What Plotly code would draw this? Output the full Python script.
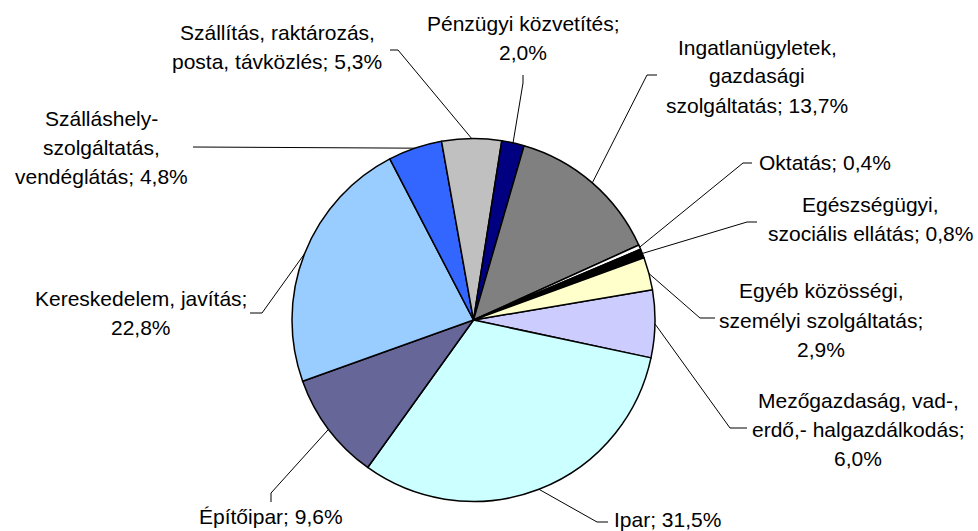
import math
import plotly.graph_objects as go

W, H = 978, 531

# ---- data -------------------------------------------------------------
categories = [
    "Mezőgazdaság, vad-, erdő,- halgazdálkodás",
    "Ipar",
    "Építőipar",
    "Kereskedelem, javítás",
    "Szálláshely-szolgáltatás, vendéglátás",
    "Szállítás, raktározás, posta, távközlés",
    "Pénzügyi közvetítés",
    "Ingatlanügyletek, gazdasági szolgáltatás",
    "Oktatás",
    "Egészségügyi, szociális ellátás",
    "Egyéb közösségi, személyi szolgáltatás",
]
values = [6.0, 31.5, 9.6, 22.8, 4.8, 5.3, 2.0, 13.7, 0.4, 0.8, 2.9]
label_templates = [
    "Mezőgazdaság, vad-,<br>erdő,- halgazdálkodás;<br>{p}",
    "Ipar; {p}",
    "Építőipar; {p}",
    "Kereskedelem, javítás;<br>{p}",
    "Szálláshely-<br>szolgáltatás,<br>vendéglátás; {p}",
    "Szállítás, raktározás,<br>posta, távközlés; {p}",
    "Pénzügyi közvetítés;<br>{p}",
    "Ingatlanügyletek,<br>gazdasági<br>szolgáltatás; {p}",
    "Oktatás; {p}",
    "Egészségügyi,<br>szociális ellátás; {p}",
    "Egyéb közösségi,<br>személyi szolgáltatás;<br>{p}",
]
colors = ["#CCCCFF", "#CCFFFF", "#666699", "#99CCFF", "#3366FF", "#C0C0C0",
          "#000080", "#808080", "#FFFFFF", "#000000", "#FFFFCC"]

# ---- layout positions (pixels) ------------------------------------------
CX, CY, R = 473.5, 320.0, 181.5
ROTATION = 80.4
LINE_H = 29.0
label_pos = [(858, 429), (667, 519), (271, 516), (141, 313), (101, 147),
             (277, 47), (523, 38), (757, 76), (825, 162), (870, 219), (821, 320)]
# leader: anchor near the label, elbow point
leader_pts = [((747, 428), (730, 428)), ((608, 522), (597, 522)),
              ((271, 502), (271, 493)), ((250, 313), (262, 313)),
              ((193, 147), (193, 147)), ((390, 50), (398, 50)),
              ((523, 75), (523, 83)), ((657, 75), (647, 75)),
              ((752, 163), (743, 163)), ((757, 222), (747, 222)),
              ((715, 318), (700, 318))]


def px(x):
    return x / W


def py(y):
    return 1 - y / H


fig = go.Figure(go.Pie(
    labels=categories, values=values, sort=False, direction="clockwise",
    rotation=ROTATION, textinfo="none", hoverinfo="label+percent",
    marker=dict(colors=colors, line=dict(color="#000000", width=1.5)),
    domain=dict(x=[px(CX - R), px(CX + R)], y=[py(CY + R), py(CY - R)]),
    showlegend=False,
))

total = sum(values)
cum = 0.0
annotations = []
shapes = []
for v, tmpl, (lx, ly), (anc, elb) in zip(values, label_templates, label_pos, leader_pts):
    mid = math.radians(ROTATION + 360 * (cum + v / 2) / total)
    cum += v
    ex, ey = CX + R * math.sin(mid), CY - R * math.cos(mid)
    pct = f"{v:.1f}".replace(".", ",") + "%"
    lines = tmpl.format(p=pct).split("<br>")
    n = len(lines)
    for i, line in enumerate(lines):
        yy = ly + (i - (n - 1) / 2) * LINE_H
        annotations.append(dict(
            x=px(lx), y=py(yy), xref="paper", yref="paper", text=line,
            showarrow=False, xanchor="center", yanchor="middle", align="center",
            font=dict(family="Arial, Liberation Sans, sans-serif", size=21,
                      color="#000000"),
        ))
    path = (f"M {px(anc[0])} {py(anc[1])} L {px(elb[0])} {py(elb[1])} "
            f"L {px(ex)} {py(ey)}")
    shapes.append(dict(type="path", path=path, xref="paper", yref="paper",
                       line=dict(color="#000000", width=1), layer="above"))

fig.update_layout(
    width=W, height=H, margin=dict(l=0, r=0, t=0, b=0),
    paper_bgcolor="#FFFFFF", plot_bgcolor="#FFFFFF",
    annotations=annotations, shapes=shapes,
)

fig.write_html(
    "out.html",
    config={"displayModeBar": False},
    post_script="document.body.style.margin='0';document.body.style.overflow='hidden';",
)
